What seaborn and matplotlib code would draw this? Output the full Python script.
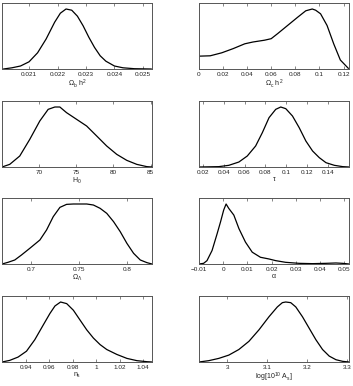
import matplotlib
matplotlib.use("Agg")
import matplotlib.pyplot as plt
import pandas as pd
import seaborn as sns

# marginalised 1D posteriors (peak normalised to 1)
omb_x = [0.0201, 0.0204, 0.0207, 0.0210, 0.0213, 0.0216, 0.0219, 0.0221, 0.0223, 0.0225,
         0.0227, 0.0229, 0.0231, 0.0233, 0.0235, 0.0237, 0.0240, 0.0243, 0.0247, 0.0253]
omb_y = [0.00, 0.02, 0.05, 0.12, 0.27, 0.50, 0.78, 0.93, 1.00, 0.98,
         0.88, 0.72, 0.53, 0.36, 0.22, 0.13, 0.05, 0.02, 0.005, 0.00]

omc_x = [0.0, 0.0093, 0.0189, 0.0284, 0.038, 0.0448, 0.0544, 0.0599, 0.0653, 0.0735,
         0.0817, 0.0886, 0.094, 0.0968, 0.1009, 0.1063, 0.1118, 0.1173, 0.1240]
omc_y = [0.214, 0.22, 0.27, 0.34, 0.42, 0.45, 0.48, 0.505, 0.59, 0.725,
         0.86, 0.97, 1.0, 0.98, 0.92, 0.725, 0.42, 0.15, 0.01]

h0_x = [65.0, 66.04, 67.39, 68.74, 70.09, 71.22, 72.12, 72.79, 73.69, 75.05,
        76.40, 77.75, 79.10, 80.45, 81.80, 83.15, 84.5, 85.2]
h0_y = [0.0, 0.044, 0.183, 0.461, 0.767, 0.961, 1.0, 1.0, 0.906, 0.794,
        0.683, 0.517, 0.35, 0.211, 0.111, 0.044, 0.006, 0.0]

tau_x = [0.0165, 0.0354, 0.0450, 0.0546, 0.0626, 0.0706, 0.0770, 0.0834, 0.0898, 0.0946,
         0.0994, 0.1058, 0.1122, 0.1186, 0.1250, 0.1314, 0.1378, 0.1458, 0.1538, 0.1598]
tau_y = [0.0, 0.006, 0.028, 0.083, 0.183, 0.35, 0.572, 0.822, 0.961, 1.0,
         0.972, 0.85, 0.656, 0.433, 0.267, 0.156, 0.072, 0.028, 0.006, 0.0]

oml_x = [0.6691, 0.6754, 0.6825, 0.6895, 0.6982, 0.7088, 0.7158, 0.7228, 0.7298, 0.7368, 0.7439,
         0.7579, 0.7649, 0.7719, 0.7789, 0.7860, 0.7930, 0.8000, 0.8070, 0.8140, 0.8211, 0.8263]
oml_y = [0.0, 0.028, 0.067, 0.15, 0.261, 0.4, 0.567, 0.789, 0.944, 0.994, 1.0,
         1.0, 0.983, 0.928, 0.844, 0.706, 0.539, 0.344, 0.178, 0.067, 0.022, 0.0]

alpha_x = [-0.0100, -0.0081, -0.0067, -0.0046, -0.0025, -0.0011, 0.0002, 0.0012, 0.0023, 0.0044,
           0.0065, 0.0092, 0.0120, 0.0154, 0.0189, 0.0217, 0.0258, 0.0314, 0.0369, 0.0424,
           0.0466, 0.0493, 0.0520]
alpha_y = [0.0, 0.011, 0.056, 0.225, 0.506, 0.702, 0.899, 1.0, 0.927, 0.815,
           0.59, 0.365, 0.197, 0.112, 0.084, 0.056, 0.028, 0.011, 0.006, 0.011,
           0.017, 0.011, 0.0]

ns_x = [0.9197, 0.9263, 0.9334, 0.9406, 0.9477, 0.9549, 0.9606, 0.9649, 0.9697, 0.9749, 0.9806,
        0.9863, 0.9920, 0.9977, 1.0034, 1.0091, 1.0177, 1.0263, 1.0349, 1.0434, 1.0477]
ns_y = [0.0, 0.027, 0.082, 0.18, 0.372, 0.617, 0.809, 0.934, 1.0, 0.973, 0.863,
        0.699, 0.536, 0.399, 0.290, 0.208, 0.126, 0.060, 0.022, 0.005, 0.0]

as_x = [2.9298, 2.954, 2.9791, 3.0042, 3.0292, 3.0543, 3.0794, 3.1044, 3.1253, 3.1378, 3.1462,
        3.1587, 3.1713, 3.1880, 3.2047, 3.2214, 3.2381, 3.2548, 3.2716, 3.2883, 3.3041]
as_y = [0.0, 0.022, 0.060, 0.115, 0.208, 0.344, 0.536, 0.754, 0.918, 0.989, 1.0,
        0.989, 0.918, 0.754, 0.563, 0.372, 0.208, 0.098, 0.038, 0.011, 0.0]

labels = [r"$\Omega_b\ h^2$", r"$\Omega_c\ h^2$", r"$H_0$", r"$\tau$",
          r"$\Omega_\Lambda$", r"$\alpha$", r"$n_s$", r"log[10$^{10}$ A$_s$]"]

ticks = [
    [0.021, 0.022, 0.023, 0.024, 0.025],
    [0, 0.02, 0.04, 0.06, 0.08, 0.1, 0.12],
    [70, 75, 80, 85],
    [0.02, 0.04, 0.06, 0.08, 0.1, 0.12, 0.14],
    [0.7, 0.75, 0.8],
    [-0.01, 0, 0.01, 0.02, 0.03, 0.04, 0.05],
    [0.94, 0.96, 0.98, 1, 1.02, 1.04],
    [3, 3.1, 3.2, 3.3],
]
tick_labels = [
    ["0.021", "0.022", "0.023", "0.024", "0.025"],
    ["0", "0.02", "0.04", "0.06", "0.08", "0.1", "0.12"],
    ["70", "75", "80", "85"],
    ["0.02", "0.04", "0.06", "0.08", "0.1", "0.12", "0.14"],
    ["0.7", "0.75", "0.8"],
    ["\u22120.01", "0", "0.01", "0.02", "0.03", "0.04", "0.05"],
    ["0.94", "0.96", "0.98", "1", "1.02", "1.04"],
    ["3", "3.1", "3.2", "3.3"],
]
xlims = [(0.02005, 0.02532), (0.0, 0.1245), (65.0, 85.2), (0.0165, 0.1598),
         (0.6691, 0.8263), (-0.0100, 0.0520), (0.9197, 1.0477), (2.9298, 3.3041)]

curves = [(omb_x, omb_y), (omc_x, omc_y), (h0_x, h0_y), (tau_x, tau_y),
          (oml_x, oml_y), (alpha_x, alpha_y), (ns_x, ns_y), (as_x, as_y)]

sns.set_style("ticks")
plt.rcParams["font.family"] = ["Liberation Sans", "DejaVu Sans"]
plt.rcParams["mathtext.fontset"] = "custom"
plt.rcParams["mathtext.rm"] = "Liberation Sans"
plt.rcParams["mathtext.it"] = "Liberation Sans"

W, H = 353, 386
fig = plt.figure(figsize=(W / 100, H / 100), dpi=100)
fig.patch.set_facecolor("white")

lefts = [2, 199]
tops = [3, 101, 198, 296]
aw, ah = 150, 66

for i, (xs, ys) in enumerate(curves):
    row, col = divmod(i, 2)
    ax = fig.add_axes([lefts[col] / W, 1 - (tops[row] + ah) / H, aw / W, ah / H])
    df = pd.DataFrame({"x": xs, "y": ys})
    sns.lineplot(data=df, x="x", y="y", ax=ax, color="black", linewidth=0.9, sort=False)
    ax.set_xlim(*xlims[i])
    ax.set_ylim(0, 1.1)
    ax.set_xticks(ticks[i])
    ax.set_xticklabels(tick_labels[i])
    ax.set_yticks([])
    ax.set_ylabel("")
    ax.set_xlabel(labels[i], fontsize=5, labelpad=0.5, color="#222222")
    ax.tick_params(axis="x", direction="in", length=2, width=0.5, top=True,
                   labelsize=4.6, pad=2, color="#555555", labelcolor="#222222")
    for sp in ax.spines.values():
        sp.set_visible(True)
        sp.set_linewidth(0.7)
        sp.set_color("#555555")
    ax.set_facecolor("white")

fig.savefig("out.png", dpi=100)
